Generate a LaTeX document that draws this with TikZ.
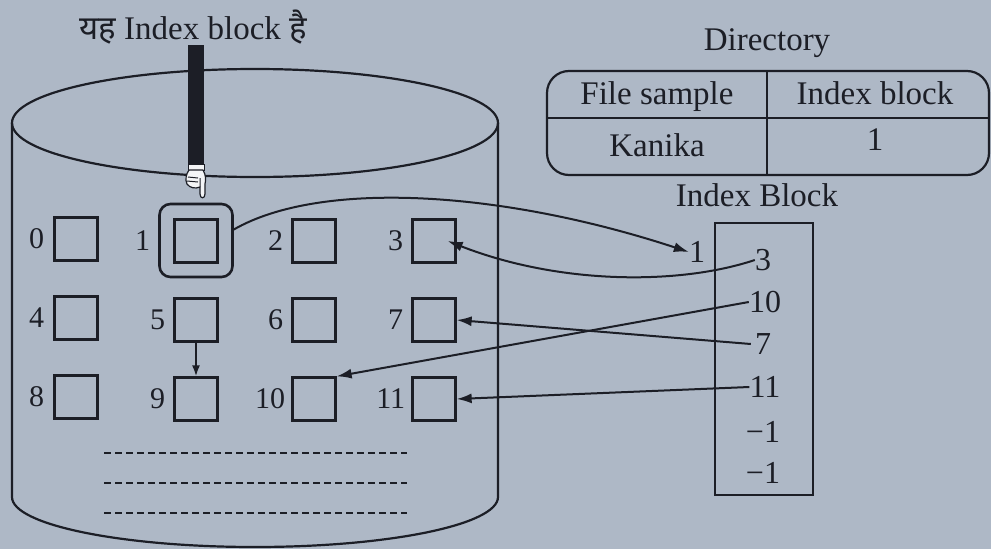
\documentclass[tikz,border=0pt]{standalone}
\usepackage{fontspec}
\setmainfont{Liberation Serif}
\newfontfamily\devafont[Script=Devanagari]{Noto Sans}
\usetikzlibrary{arrows.meta}
\definecolor{paper}{HTML}{AEB8C6}
\definecolor{ink}{HTML}{1C1E26}

\begin{document}
\begin{tikzpicture}[x=1pt,y=-1pt,
  every node/.style={text=ink, font=\fontsize{33}{38}\selectfont, inner sep=0pt},
  blk/.style={draw=ink, line width=2.3pt, minimum size=43pt, inner sep=0pt},
  num/.style={font=\fontsize{30}{34}\selectfont},
  entry/.style={font=\fontsize{32}{36}\selectfont},
  lbl/.style={num, anchor=east},
  outline/.style={draw=ink, line width=2.2pt},
  link/.style={draw=ink, line width=2pt, -{Latex[length=15pt,width=10pt]}},
  shortlink/.style={draw=ink, line width=1.8pt, -{Latex[length=11pt,width=8pt]}},
  gap/.style={draw=ink, line width=1.4pt, dash pattern=on 7pt off 4pt}]

% page
\fill[paper] (0,0) rectangle (991,549);
\useasboundingbox (0,0) rectangle (991,549);

% disk cylinder
\draw[outline] (255,123) ellipse [x radius=243, y radius=54];
\draw[outline] (12,123) -- (12,497) arc[start angle=180, end angle=0, x radius=243, y radius=50] -- (498,123);

% caption and pointing hand
\node (head) at (193,27) {{\devafont यह} Index block {\devafont है}};
\fill[ink] (188,45) rectangle (204,165);
\draw[ink, fill=white!85!paper, line width=0.9pt] (188,164) rectangle (204,170);
\draw[ink, fill=white!85!paper, line width=1.2pt, line join=round]
  (189,170) -- (203,170) .. controls (206,175) and (206,180) .. (205,184)
  -- (205,194) .. controls (205,199) and (200,199) .. (200,194)
  -- (200,187) .. controls (195,189) and (190,188) .. (187,184)
  .. controls (185,180) and (186,174) .. (189,170) -- cycle;
\draw[ink, line width=1pt] (188,177) -- (198,178) (187,181) -- (198,182) (200,178) -- (200,187);

% disk blocks
\node[blk] (b0) at (76,239) {};
\node[blk] (b1) at (196,241) {};
\node[blk] (b2) at (314,241) {};
\node[blk] (b3) at (434,241) {};
\node[blk] (b4) at (76,318) {};
\node[blk] (b5) at (196,320) {};
\node[blk] (b6) at (314,320) {};
\node[blk] (b7) at (434,320) {};
\node[blk] (b8) at (76,397) {};
\node[blk] (b9) at (196,399) {};
\node[blk] (b10) at (314,399) {};
\node[blk] (b11) at (434,399) {};
\node[draw=ink, line width=2.6pt, rounded corners=11pt, minimum size=73pt] (f1) at (196,240.5) {};

\node[lbl] (l0) at ([xshift=-9pt]b0.west) {0};
\node[lbl] (l1) at ([xshift=-8pt]f1.west) {1};
\node[lbl] (l2) at ([xshift=-8pt]b2.west) {2};
\node[lbl] (l3) at ([xshift=-8pt]b3.west) {3};
\node[lbl] (l4) at ([xshift=-9pt]b4.west) {4};
\node[lbl] (l5) at ([xshift=-8pt]b5.west) {5};
\node[lbl] (l6) at ([xshift=-8pt]b6.west) {6};
\node[lbl] (l7) at ([xshift=-8pt]b7.west) {7};
\node[lbl] (l8) at ([xshift=-9pt]b8.west) {8};
\node[lbl] (l9) at ([xshift=-8pt]b9.west) {9};
\node[lbl] (l10) at ([xshift=-6pt]b10.west) {10};
\node[lbl] (l11) at ([xshift=-6pt]b11.west) {11};

\draw[shortlink] (b5.south) -- (b9.north);

% free space
\draw[gap] (104,453) -- (407,453);
\draw[gap] (104,483) -- (407,483);
\draw[gap] (104,513) -- (407,513);

% directory table
\node (dir) at (767,43) {Directory};
\draw[outline, rounded corners=22pt] (547,71) rectangle (989,175);
\draw[outline] (547,118) -- (989,118);
\draw[outline] (767,71) -- (767,175);
\node (fs) at (657,97) {File sample};
\node (ib) at (875,93) {Index block};
\node (kn) at (657,145) {Kanika};
\node (kv) at (875,140) {1};

% index block
\node (iblab) at (757,195) {Index Block};
\node[outline, minimum width=98pt, minimum height=272pt] (ibox) at (764,359) {};
\node[entry] (e1) at (763,260) {3};
\node[entry] (e2) at (765,302) {10};
\node[entry] (e3) at (763,344) {7};
\node[entry] (e4) at (765,387) {11};
\node[entry] (e5) at (763,432) {−1};
\node[entry] (e6) at (763,473) {−1};
\node[entry] (ptr) at (697,252) {1};

% pointers
\draw[link] ([yshift=11pt]f1.east) .. controls (320,180) and (500,190) .. (ptr.west);
\draw[link] (e1.west) .. controls (680,285) and (560,285) .. ([xshift=-9pt]b3.east);
\draw[link] (e2.west) -- (b10.north east);
\draw[link] ([xshift=-4pt]e3.west) -- (b7.east);
\draw[link] (e4.west) -- (b11.east);
\end{tikzpicture}
\end{document}
